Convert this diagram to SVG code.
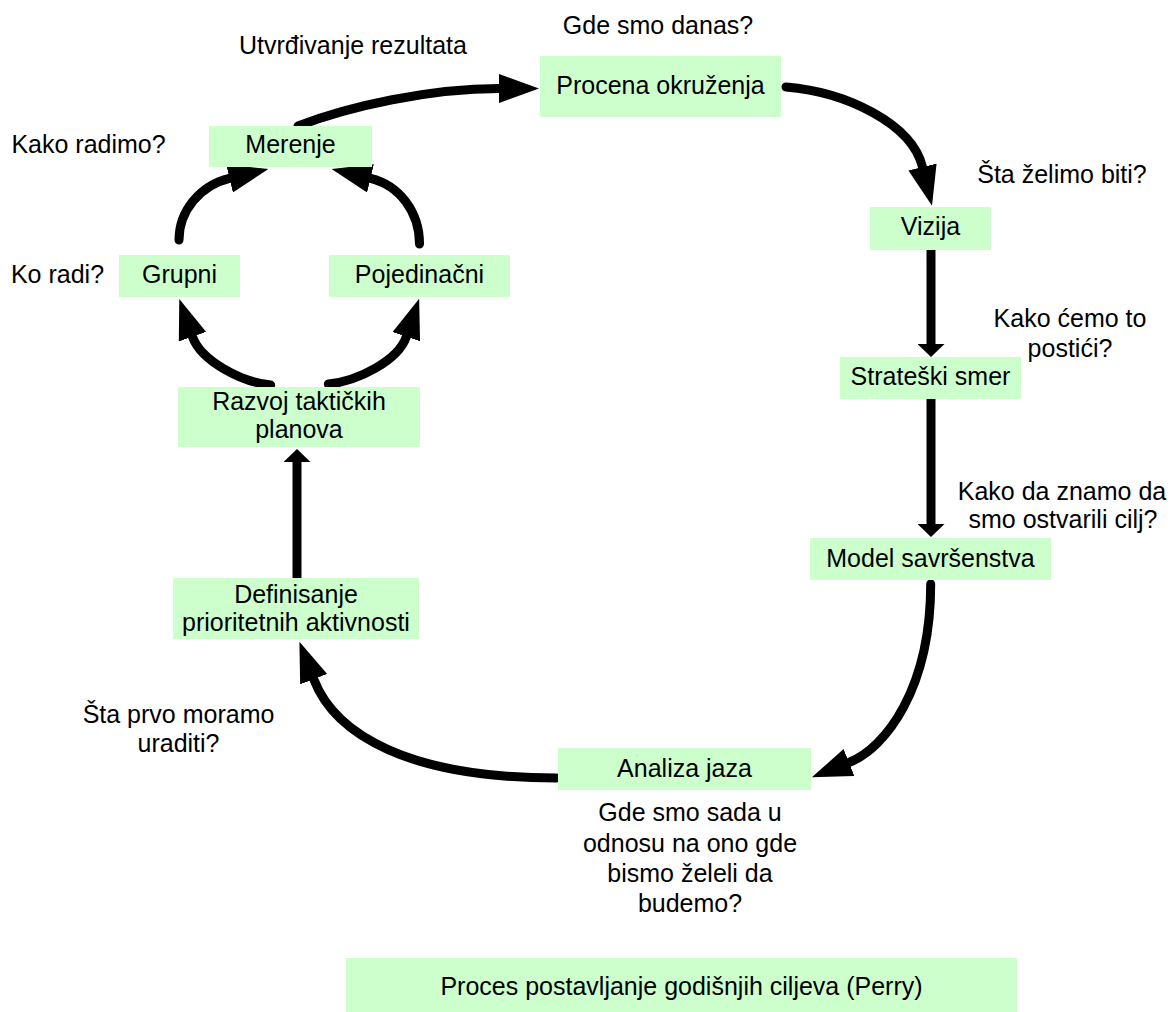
<svg xmlns="http://www.w3.org/2000/svg" width="1173" height="1012" viewBox="0 0 1173 1012">
  <style>
    .box { fill: #ccffcc; }
    text { font-family: "Liberation Sans", Arial, Helvetica, sans-serif; font-size: 25px; fill: #000; text-anchor: middle; }
    .flow { fill: none; stroke: #000; stroke-width: 9; stroke-linecap: round; }
    .flowL { marker-end: url(#headL); }
    .flowS { marker-end: url(#headS); stroke-linecap: butt; }
  </style>
  <defs>
    <!-- long arrowhead used on the curved connectors -->
    <marker id="headL" markerUnits="userSpaceOnUse" viewBox="0 0 40 29" markerWidth="40" markerHeight="29" refX="0" refY="14.5" orient="auto">
      <path d="M0,0 L40,14.5 L0,29 Z" fill="#000"/>
    </marker>
    <!-- short arrowhead used on the straight vertical connectors -->
    <marker id="headS" markerUnits="userSpaceOnUse" viewBox="0 0 13 27" markerWidth="13" markerHeight="27" refX="0" refY="13.5" orient="auto">
      <path d="M0,0 L13,13.5 L0,27 Z" fill="#000"/>
    </marker>
  </defs>

  <g id="connectors">
    <path class="flow flowL" d="M298,126 C350,106 430,88.5 499,88.5"/>
    <path class="flow flowL" d="M786,87 C846,92 911.8,123.3 922.5,167"/>
    <path class="flow flowS" d="M931,250 L931,344"/>
    <path class="flow flowS" d="M931,399 L931,524"/>
    <path class="flow flowL" d="M930.7,584 C930.7,688 886.2,747.7 849,762.5"/>
    <path class="flow flowL" d="M556,778 C410,778 335.1,735.2 313.7,679.2"/>
    <path class="flow flowS" d="M297,578 L297,462"/>
    <path class="flow flowL" d="M270.7,385 C240.7,382 200.75,360.3 192.5,336.7"/>
    <path class="flow flowL" d="M328.3,384 C358.3,381 398.3,360.3 406.3,336.7"/>
    <path class="flow flowL" d="M179,240 C179,210.3 200.6,185.3 229.5,178.4"/>
    <path class="flow flowL" d="M419.5,244 C419.5,212 399.4,185.3 370.5,178.4"/>
  </g>

  <g id="procena">
    <rect class="box" x="540" y="56" width="241" height="61"/>
    <text x="660.5" y="94">Procena okruženja</text>
  </g>
  <g id="merenje">
    <rect class="box" x="209" y="126" width="163" height="41"/>
    <text x="290.5" y="153">Merenje</text>
  </g>
  <g id="grupni">
    <rect class="box" x="119" y="255" width="121" height="42"/>
    <text x="179.5" y="283">Grupni</text>
  </g>
  <g id="pojedinacni">
    <rect class="box" x="329" y="255" width="181" height="42"/>
    <text x="419.5" y="283">Pojedinačni</text>
  </g>
  <g id="razvoj">
    <rect class="box" x="178" y="387" width="242" height="60"/>
    <text x="299" y="410">Razvoj taktičkih</text>
    <text x="299" y="438">planova</text>
  </g>
  <g id="definisanje">
    <rect class="box" x="173" y="578" width="246" height="61"/>
    <text x="296" y="603">Definisanje</text>
    <text x="296" y="631">prioritetnih aktivnosti</text>
  </g>
  <g id="analiza">
    <rect class="box" x="558" y="748" width="253" height="42"/>
    <text x="684.5" y="777">Analiza jaza</text>
  </g>
  <g id="model">
    <rect class="box" x="810" y="538" width="241" height="42"/>
    <text x="930.5" y="567">Model savršenstva</text>
  </g>
  <g id="strateski">
    <rect class="box" x="840" y="357" width="181" height="42"/>
    <text x="930.5" y="385">Strateški smer</text>
  </g>
  <g id="vizija">
    <rect class="box" x="870" y="207" width="121" height="43"/>
    <text x="930.5" y="235">Vizija</text>
  </g>
  <g id="naslov">
    <rect class="box" x="346" y="958" width="671" height="54"/>
    <text x="681.5" y="995">Proces postavljanje godišnjih ciljeva (Perry)</text>
  </g>

  <g id="labels">
    <text x="658" y="34">Gde smo danas?</text>
    <text x="353" y="54">Utvrđivanje rezultata</text>
    <text x="88.5" y="153">Kako radimo?</text>
    <text x="57.5" y="283">Ko radi?</text>
    <text x="1062" y="183">Šta želimo biti?</text>
    <text x="1070" y="327">Kako ćemo to</text>
    <text x="1070" y="357">postići?</text>
    <text x="1062" y="500">Kako da znamo da</text>
    <text x="1063" y="528">smo ostvarili cilj?</text>
    <text x="178.5" y="723">Šta prvo moramo</text>
    <text x="178.5" y="752">uraditi?</text>
    <text x="690" y="821">Gde smo sada u</text>
    <text x="690" y="852">odnosu na ono gde</text>
    <text x="690" y="882">bismo želeli da</text>
    <text x="690" y="912">budemo?</text>
  </g>
</svg>
